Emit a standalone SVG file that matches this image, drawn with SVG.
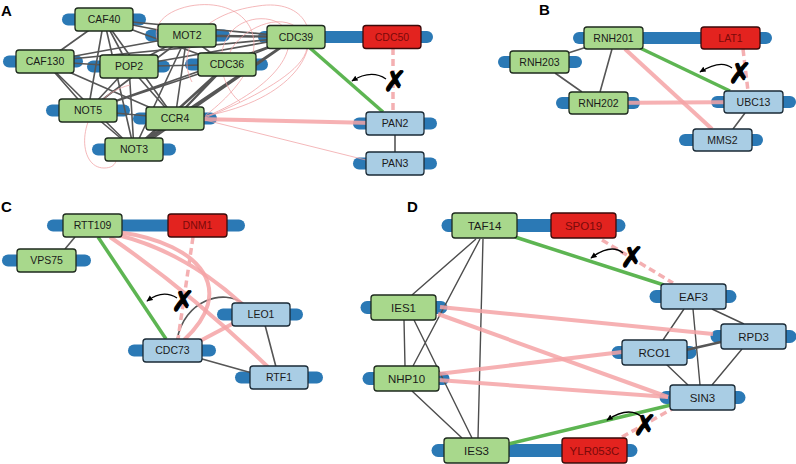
<svg xmlns="http://www.w3.org/2000/svg" width="796" height="464" viewBox="0 0 796 464">
<defs>
<marker id="ah" viewBox="0 0 10 10" refX="8" refY="5" markerWidth="7" markerHeight="7" orient="auto-start-reverse" markerUnits="userSpaceOnUse">
<path d="M0,1 L9,5 L0,9 Z" fill="#000"/>
</marker>
</defs>
<style>
.bar{fill:none;stroke:#2b79b5;stroke-width:12;stroke-linecap:round}
.barD{fill:none;stroke:#2b79b5;stroke-width:13;stroke-linecap:round}
.g rect{fill:#a8d88c;stroke:#1e2a1e;stroke-width:1.3}
.b rect{fill:#a9cde4;stroke:#1a2a36;stroke-width:1.3}
.r rect{fill:#e3231f;stroke:#3a0a0a;stroke-width:1.3}
text{font-family:"Liberation Sans",Arial,sans-serif;text-anchor:middle}
.lab{font-size:10.5px;fill:#1a1a1a}
.labD{font-size:11.5px;fill:#1a1a1a}
.r text{fill:#7a0a0a}
.pl{font-size:15px;font-weight:bold;fill:#000;text-anchor:start}
.gray{stroke:#565656;stroke-width:1.6;fill:none}
.grayT{stroke:#565656;stroke-width:2.4;fill:none}
.grayD{stroke:#4d4d4d;stroke-width:1.4;fill:none}
.pink{stroke:#f4a3a6;stroke-width:4;fill:none;opacity:0.85}
.pinkT{stroke:#f0a0a3;stroke-width:1;fill:none;opacity:0.75}
.dash{stroke:#f4b0b2;stroke-width:3.5;fill:none;stroke-dasharray:7 4}
.grn{stroke:#5db552;stroke-width:3.5;fill:none}
.arr{stroke:#000;stroke-width:1.3;fill:none}
.x{font-family:"DejaVu Sans",sans-serif;font-size:28px;fill:#000;stroke:#000;stroke-width:1.2}
</style>
<g id="panel-labels">
<text class="pl" x="1" y="16">A</text>
<text class="pl" x="539" y="15">B</text>
<text class="pl" x="1" y="212">C</text>
<text class="pl" x="407" y="212">D</text>
</g>
<g id="bars">
<line class="bar" x1="68" y1="19.5" x2="140" y2="19.5"/>
<line class="bar" x1="151" y1="35.5" x2="224" y2="35.5"/>
<line class="bar" x1="9" y1="61.5" x2="77" y2="61.5"/>
<line class="bar" x1="93" y1="66.5" x2="164" y2="66.5"/>
<line class="bar" x1="191" y1="64.5" x2="262" y2="64.5"/>
<line class="bar" x1="264" y1="37" x2="427" y2="37"/>
<line class="bar" x1="52" y1="110.5" x2="124" y2="110.5"/>
<line class="bar" x1="139" y1="118.5" x2="211" y2="118.5"/>
<line class="bar" x1="98" y1="149.5" x2="170" y2="149.5"/>
<line class="bar" x1="359" y1="123.5" x2="431" y2="123.5"/>
<line class="bar" x1="359" y1="163.5" x2="431" y2="163.5"/>
<line class="bar" x1="579" y1="38" x2="766" y2="38"/>
<line class="bar" x1="504" y1="62" x2="576" y2="62"/>
<line class="bar" x1="562" y1="103" x2="634" y2="103"/>
<line class="bar" x1="717" y1="102" x2="790" y2="102"/>
<line class="bar" x1="685" y1="140" x2="757" y2="140"/>
<line class="bar" x1="53" y1="225.5" x2="239" y2="225.5"/>
<line class="bar" x1="8" y1="260.5" x2="85" y2="260.5"/>
<line class="bar" x1="223" y1="314.5" x2="297" y2="314.5"/>
<line class="bar" x1="134" y1="350.5" x2="210" y2="350.5"/>
<line class="bar" x1="241" y1="377.5" x2="317" y2="377.5"/>
<line class="barD" x1="448" y1="225.5" x2="619" y2="225.5"/>
<line class="barD" x1="656" y1="296.5" x2="730" y2="296.5"/>
<line class="barD" x1="367" y1="307.5" x2="441" y2="307.5"/>
<line class="barD" x1="717" y1="336.5" x2="790" y2="336.5"/>
<line class="barD" x1="618" y1="352.5" x2="690" y2="352.5"/>
<line class="barD" x1="369" y1="378.5" x2="443" y2="378.5"/>
<line class="barD" x1="666" y1="397.5" x2="739" y2="397.5"/>
<line class="barD" x1="438" y1="450.5" x2="631" y2="450.5"/>
</g>
<g id="connectors">
<path class="gray" d="M104,19.5 L187,35.5 M104,19.5 L296,37 M104,19.5 L45,61.5 M104,19.5 L129,66.5 M104,19.5 L227,64.5 M104,19.5 L88,110.5 M104,19.5 L175,118.5 M104,19.5 L134,149.5"/>
<path class="gray" d="M187,35.5 L45,61.5 M187,35.5 L129,66.5 M187,35.5 L227,64.5 M187,35.5 L88,110.5 M187,35.5 L175,118.5 M187,35.5 L134,149.5"/>
<path class="gray" d="M45,61.5 L129,66.5 M45,61.5 L296,37 M45,61.5 L88,110.5 M45,61.5 L134,149.5 M45,61.5 L175,118.5"/>
<path class="gray" d="M129,66.5 L227,64.5 M129,66.5 L296,37 M129,66.5 L88,110.5 M129,66.5 L175,118.5 M129,66.5 L134,149.5"/>
<path class="gray" d="M227,64.5 L296,37 M227,64.5 L88,110.5 M296,37 L88,110.5 M88,110.5 L175,118.5 M88,110.5 L134,149.5"/>
<path class="grayT" d="M187,35.5 L296,37 M227,64.5 L175,118.5 M296,37 L175,118.5 M227,64.5 L134,149.5 M296,37 L134,149.5 M175,118.5 L134,149.5"/>
<path class="gray" d="M139,148 L178,121"/>
<path class="gray" d="M395,135 L395,152"/>
<path class="pinkT" d="M205,116 C335,92 332,-6 258,6 C198,14 176,52 192,82"/>
<path class="pinkT" d="M205,117 C312,72 302,14 256,19 C214,25 212,78 240,102"/>
<path class="pinkT" d="M206,115 C290,50 250,-5 190,6 C160,12 150,30 160,45"/>
<path class="pinkT" d="M205,118 C260,95 330,60 300,30 C280,10 240,30 230,52"/>
<path class="pinkT" d="M130,85 C76,98 74,168 104,168 C118,168 116,158 118,152"/>
<path class="pinkT" d="M205,120 L366,160"/>
<path class="pink" d="M175,118.5 L395,123.5"/>
<path class="grn" d="M310,48 L383,112"/>
<path class="dash" d="M393,48 L393,112"/>
<path class="arr" marker-end="url(#ah)" d="M386,79 Q371,69 352,81"/>
<path class="gray" d="M590,46 L565,54 M612,49 L600,92 M555,73 L582,92 M745,113 L733,129"/>
<path class="grn" d="M640,48 L730,91"/>
<path class="pink" d="M625,49 L712,129"/>
<path class="pink" d="M598.5,103 L753.5,102"/>
<path class="dash" d="M743,49 L748,91"/>
<path class="arr" marker-end="url(#ah)" d="M732,68 Q721,59 700,72"/>
<path class="gray" d="M75,237 L65,249"/>
<path class="gray" d="M177,340 C184,300 224,288 244,304"/>
<path class="gray" d="M265,325 L276,367 M195,357 L252,373"/>
<path class="grn" d="M98,237 L166,339"/>
<path class="pink" d="M118,232 C205,244 236,292 184,340"/>
<path class="pink" d="M118,235 Q185,252 242,304"/>
<path class="pink" d="M110,237 Q190,292 268,367"/>
<path class="pink" d="M198,342 L234,323"/>
<path class="dash" d="M193,237 L178,339"/>
<path class="arr" marker-end="url(#ah)" d="M177,298 Q163,289 147,301"/>
<path class="grayD" d="M476,239 L412,295 M480,239 L413,366 M483,239 L478,438 M404,320 L405,366 M414,320 L472,438 M412,391 L462,438"/>
<path class="grayD" d="M684,309 L663,340 M693,309 L700,385 M712,309 L744,324 M666,364 L688,385 M742,349 L712,385"/>
<path class="grayT" d="M686,350 L721,342"/>
<path class="pink" d="M440,307 L713,334"/>
<path class="pink" d="M438,314 L668,397"/>
<path class="pink" d="M438,374 L622,352"/>
<path class="pink" d="M438,380 L668,397"/>
<path class="grn" d="M515,237 L664,285"/>
<path class="grn" d="M508,444 L671,405"/>
<path class="dash" d="M602,240 L673,283"/>
<path class="dash" d="M622,437 L672,409"/>
<path class="arr" marker-end="url(#ah)" d="M623,253 Q611,243 591,258"/>
<path class="arr" marker-end="url(#ah)" d="M643,418 Q630,405 607,420"/>
</g>
<g id="crosses">
<text class="x" x="395" y="91">✗</text>
<text class="x" x="740" y="83">✗</text>
<text class="x" x="183" y="311">✗</text>
<text class="x" x="632" y="267">✗</text>
<text class="x" x="645" y="435">✗</text>
</g>
<g id="CAF40" class="g"><rect x="75" y="8" width="58" height="23" rx="3"/><text class="lab" x="104" y="23.2">CAF40</text></g>
<g id="MOT2" class="g"><rect x="158" y="24" width="58" height="23" rx="3"/><text class="lab" x="187" y="39.2">MOT2</text></g>
<g id="CAF130" class="g"><rect x="16" y="50" width="58" height="23" rx="3"/><text class="lab" x="45" y="65.2">CAF130</text></g>
<g id="POP2" class="g"><rect x="100" y="55" width="58" height="23" rx="3"/><text class="lab" x="129" y="70.2">POP2</text></g>
<g id="CDC36" class="g"><rect x="198" y="53" width="58" height="23" rx="3"/><text class="lab" x="227" y="68.2">CDC36</text></g>
<g id="CDC39" class="g"><rect x="267" y="25.5" width="58" height="23" rx="3"/><text class="lab" x="296" y="40.7">CDC39</text></g>
<g id="CDC50" class="r"><rect x="363" y="25.5" width="58" height="23" rx="3"/><text class="lab" x="392" y="40.7">CDC50</text></g>
<g id="NOT5" class="g"><rect x="59" y="99" width="58" height="23" rx="3"/><text class="lab" x="88" y="114.2">NOT5</text></g>
<g id="CCR4" class="g"><rect x="146" y="107" width="58" height="23" rx="3"/><text class="lab" x="175" y="122.2">CCR4</text></g>
<g id="NOT3" class="g"><rect x="105" y="138" width="58" height="23" rx="3"/><text class="lab" x="134" y="153.2">NOT3</text></g>
<g id="PAN2" class="b"><rect x="366" y="112" width="58" height="23" rx="3"/><text class="lab" x="395" y="127.2">PAN2</text></g>
<g id="PAN3" class="b"><rect x="366" y="152" width="58" height="23" rx="3"/><text class="lab" x="395" y="167.2">PAN3</text></g>
<g id="RNH201" class="g"><rect x="584" y="27" width="59" height="22" rx="3"/><text class="lab" x="613.5" y="41.7">RNH201</text></g>
<g id="LAT1" class="r"><rect x="701" y="27" width="59" height="22" rx="3"/><text class="lab" x="730.5" y="41.7">LAT1</text></g>
<g id="RNH203" class="g"><rect x="510" y="51" width="59" height="22" rx="3"/><text class="lab" x="539.5" y="65.7">RNH203</text></g>
<g id="RNH202" class="g"><rect x="569" y="92" width="59" height="22" rx="3"/><text class="lab" x="598.5" y="106.7">RNH202</text></g>
<g id="UBC13" class="b"><rect x="724" y="91" width="59" height="22" rx="3"/><text class="lab" x="753.5" y="105.7">UBC13</text></g>
<g id="MMS2" class="b"><rect x="693" y="129" width="59" height="22" rx="3"/><text class="lab" x="722.5" y="143.7">MMS2</text></g>
<g id="RTT109" class="g"><rect x="63" y="214" width="59" height="23" rx="3"/><text class="lab" x="92.5" y="229.2">RTT109</text></g>
<g id="DNM1" class="r"><rect x="168" y="214" width="59" height="23" rx="3"/><text class="lab" x="197.5" y="229.2">DNM1</text></g>
<g id="VPS75" class="g"><rect x="17" y="249" width="59" height="23" rx="3"/><text class="lab" x="46.5" y="264.2">VPS75</text></g>
<g id="LEO1" class="b"><rect x="232" y="303" width="58" height="23" rx="3"/><text class="lab" x="261" y="318.2">LEO1</text></g>
<g id="CDC73" class="b"><rect x="143" y="339" width="59" height="23" rx="3"/><text class="lab" x="172.5" y="354.2">CDC73</text></g>
<g id="RTF1" class="b"><rect x="250" y="366" width="58" height="23" rx="3"/><text class="lab" x="279" y="381.2">RTF1</text></g>
<g id="TAF14" class="g"><rect x="452" y="213" width="65" height="25" rx="3"/><text class="labD" x="484.5" y="229.5">TAF14</text></g>
<g id="SPO19" class="r"><rect x="551" y="213" width="65" height="25" rx="3"/><text class="labD" x="583.5" y="229.5">SPO19</text></g>
<g id="EAF3" class="b"><rect x="661" y="284" width="65" height="25" rx="3"/><text class="labD" x="693.5" y="300.5">EAF3</text></g>
<g id="IES1" class="g"><rect x="371" y="295" width="65" height="25" rx="3"/><text class="labD" x="403.5" y="311.5">IES1</text></g>
<g id="RPD3" class="b"><rect x="721" y="324" width="65" height="25" rx="3"/><text class="labD" x="753.5" y="340.5">RPD3</text></g>
<g id="RCO1" class="b"><rect x="622" y="340" width="65" height="25" rx="3"/><text class="labD" x="654.5" y="356.5">RCO1</text></g>
<g id="NHP10" class="g"><rect x="374" y="366" width="65" height="25" rx="3"/><text class="labD" x="406.5" y="382.5">NHP10</text></g>
<g id="SIN3" class="b"><rect x="670" y="385" width="65" height="25" rx="3"/><text class="labD" x="702.5" y="401.5">SIN3</text></g>
<g id="IES3" class="g"><rect x="444" y="438" width="65" height="25" rx="3"/><text class="labD" x="476.5" y="454.5">IES3</text></g>
<g id="YLR053C" class="r"><rect x="562" y="438" width="65" height="25" rx="3"/><text class="labD" x="594.5" y="454.5">YLR053C</text></g>
</svg>
